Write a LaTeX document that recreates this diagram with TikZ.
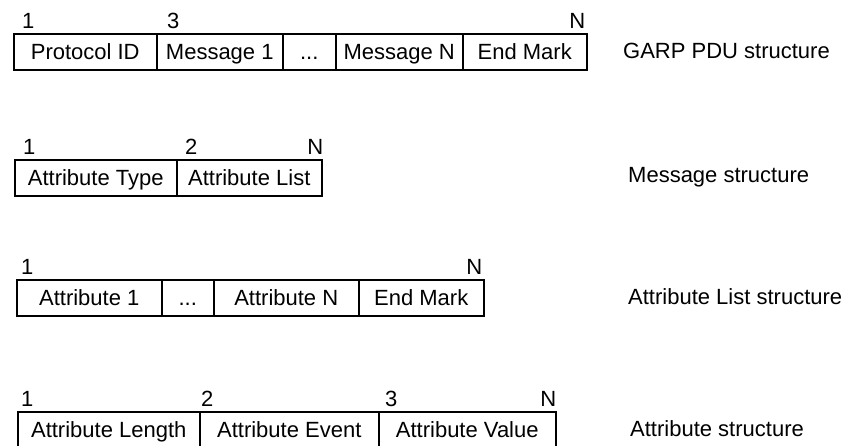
\documentclass[tikz,border=0pt]{standalone}
\usepackage{fontspec}
\setmainfont{Liberation Sans}
\usetikzlibrary{calc}

\tikzset{
    cell/.style={draw, line width=1.5pt, anchor=north west, inner sep=0pt,
        minimum height=36pt, text height=15pt, text depth=0pt,
        font=\fontsize{22}{22}\selectfont},
    num/.style={inner sep=0pt, font=\fontsize{22}{22}\selectfont},
    title/.style={anchor=west, inner sep=0pt, font=\fontsize{22}{22}\selectfont}
}

\begin{document}
\begin{tikzpicture}[x=1pt, y=-1pt]

        \useasboundingbox (0,0) rectangle (859,445);
        \clip (0,0) rectangle (859,445);

        % GARP PDU
        \node[cell, minimum width=143pt] (pid) at (13,33) {Protocol ID};
        \node[cell, minimum width=126pt] (msgA) at (156,33) {Message 1};
        \node[cell, minimum width=53pt] (pdots) at (282,33) {...};
        \node[cell, minimum width=127pt] (msgN) at (335,33) {Message N};
        \node[cell, minimum width=124pt] (pend) at (462,33) {End Mark};
        \node[num, anchor=base west] (pone) at ($(pid.north west) + (9,-4.5)$) {1};
        \node[num, anchor=base west] (pthree) at ($(msgA.north west) + (11,-4.5)$) {3};
        \node[num, anchor=base east] (pn) at ($(pend.north east) + (-2,-4.5)$) {N};
        \node[title] (ptitle) at (623,51) {GARP PDU structure};

        % MESSAGE
        \node[cell, minimum width=162pt] (mtype) at (14,159) {Attribute Type};
        \node[cell, minimum width=145pt] (mlist) at (176,159) {Attribute List};
        \node[num, anchor=base west] (mone) at ($(mtype.north west) + (9,-4.5)$) {1};
        \node[num, anchor=base west] (mtwo) at ($(mlist.north west) + (9,-4.5)$) {2};
        \node[num, anchor=base east] (mn) at ($(mlist.north east) + (1,-4.5)$) {N};
        \node[title] (mtitle) at (628,177) {Message structure};

        % ATTRIBUTE LIST
        \node[cell, minimum width=145pt] (attA) at (16,279) {Attribute 1};
        \node[cell, minimum width=52pt] (adots) at (161,279) {...};
        \node[cell, minimum width=145pt] (attN) at (213,279) {Attribute N};
        \node[cell, minimum width=125pt] (aend) at (358,279) {End Mark};
        \node[num, anchor=base west] (aone) at ($(attA.north west) + (5,-4.5)$) {1};
        \node[num, anchor=base east] (an) at ($(aend.north east) + (-2,-4.5)$) {N};
        \node[title] (atitle) at (628,297) {Attribute List structure};

        % ATTRIBUTE
        \node[cell, minimum width=182pt] (alen) at (17,411) {Attribute Length};
        \node[cell, minimum width=179pt] (aevt) at (199,411) {Attribute Event};
        \node[cell, minimum width=177pt] (aval) at (378,411) {Attribute Value};
        \node[num, anchor=base west] (lone) at ($(alen.north west) + (4,-4.5)$) {1};
        \node[num, anchor=base west] (ltwo) at ($(aevt.north west) + (2,-4.5)$) {2};
        \node[num, anchor=base west] (lthree) at ($(aval.north west) + (7,-4.5)$) {3};
        \node[num, anchor=base east] (ln) at ($(aval.north east) + (0,-4.5)$) {N};
        \node[title] (ltitle) at (630,429) {Attribute structure};

    \end{tikzpicture}
\end{document}
